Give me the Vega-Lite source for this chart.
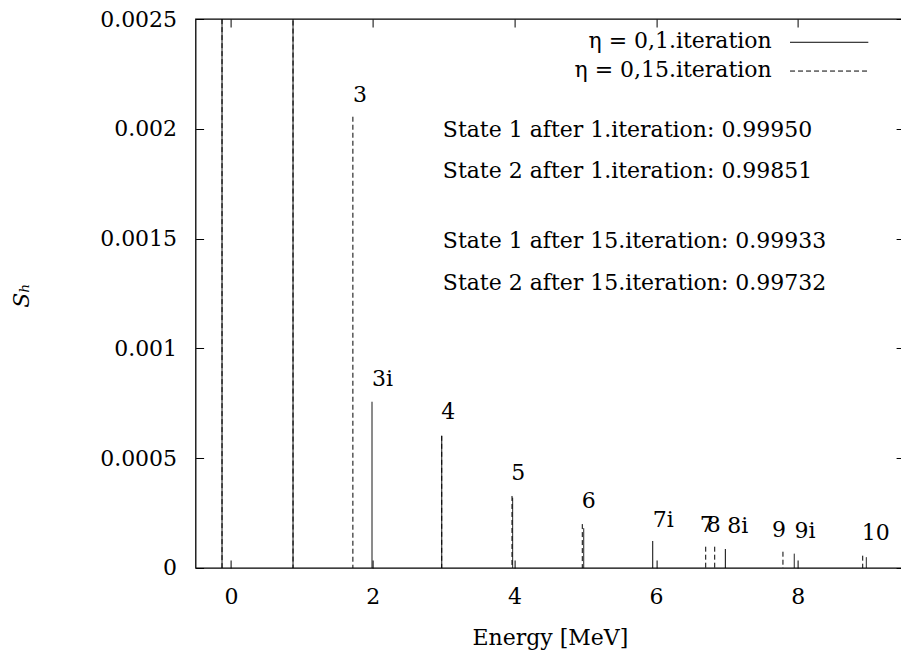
{
  "$schema": "https://vega.github.io/schema/vega-lite/v6.json",
  "width": 708.5,
  "height": 549,
  "autosize": {"type": "none"},
  "padding": {"left": 195.6, "top": 19, "right": 0, "bottom": 93},
  "background": "white",
  "config": {
    "font": "DejaVu Serif",
    "view": {"stroke": "black", "strokeWidth": 1.3},
    "axis": {
      "domain": false,
      "grid": false,
      "tickColor": "black",
      "tickWidth": 1,
      "tickSize": -8,
      "labelColor": "black",
      "labelFontSize": 22,
      "labelFont": "DejaVu Serif",
      "titleColor": "black",
      "titleFontSize": 22,
      "titleFontWeight": "normal",
      "titleFont": "DejaVu Serif"
    }
  },
  "datasets": {
    "spikes": [
      {"E": -0.127, "S": 0.9995, "it": "it1"},
      {"E": 0.875, "S": 0.99851, "it": "it1"},
      {"E": 1.99, "S": 0.000757, "it": "it1"},
      {"E": 2.974, "S": 0.000602, "it": "it1"},
      {"E": 3.975, "S": 0.00032, "it": "it1"},
      {"E": 4.978, "S": 0.000181, "it": "it1"},
      {"E": 5.952, "S": 0.000123, "it": "it1"},
      {"E": 6.977, "S": 0.0000865, "it": "it1"},
      {"E": 7.95, "S": 0.0000651, "it": "it1"},
      {"E": 8.967, "S": 0.0000487, "it": "it1"},
      {"E": -0.127, "S": 0.99933, "it": "it15"},
      {"E": 0.875, "S": 0.99732, "it": "it15"},
      {"E": 1.72, "S": 0.002055, "it": "it15"},
      {"E": 2.974, "S": 0.000602, "it": "it15"},
      {"E": 3.966, "S": 0.000328, "it": "it15"},
      {"E": 4.958, "S": 0.0002, "it": "it15"},
      {"E": 6.7, "S": 0.000097, "it": "it15"},
      {"E": 6.827, "S": 0.000097, "it": "it15"},
      {"E": 7.79, "S": 0.0000742, "it": "it15"},
      {"E": 8.916, "S": 0.000056, "it": "it15"}
    ],
    "peakLabels": [
      {"label": "3", "E": 1.821, "S": 0.002123},
      {"label": "3i", "E": 2.138, "S": 0.000829},
      {"label": "4", "E": 3.067, "S": 0.000677},
      {"label": "5", "E": 4.055, "S": 0.000401},
      {"label": "6", "E": 5.049, "S": 0.000272},
      {"label": "7i", "E": 6.102, "S": 0.000188},
      {"label": "7", "E": 6.714, "S": 0.000165},
      {"label": "8", "E": 6.813, "S": 0.000165},
      {"label": "8i", "E": 7.152, "S": 0.000158},
      {"label": "9", "E": 7.735, "S": 0.000143},
      {"label": "9i", "E": 8.102, "S": 0.000135},
      {"label": "10", "E": 9.099, "S": 0.000128}
    ],
    "notes": [
      {"text": "State 1 after 1.iteration: 0.99950", "E": 2.99, "S": 0.001964},
      {"text": "State 2 after 1.iteration: 0.99851", "E": 2.99, "S": 0.001775},
      {"text": "State 1 after 15.iteration: 0.99933", "E": 2.99, "S": 0.001459},
      {"text": "State 2 after 15.iteration: 0.99732", "E": 2.99, "S": 0.001267}
    ],
    "legendText": [
      {"text": "η = 0,1.iteration", "E": 7.632, "S": 0.002368},
      {"text": "η = 0,15.iteration", "E": 7.632, "S": 0.002234}
    ],
    "legendLines": [
      {"E": 7.89, "E2": 8.995, "S": 0.002394, "it": "it1"},
      {"E": 7.89, "E2": 8.995, "S": 0.002263, "it": "it15"}
    ]
  },
  "layer": [
    {
      "data": {"name": "spikes"},
      "mark": {"type": "rule", "clip": true, "color": "black", "strokeWidth": 1},
      "encoding": {
        "x": {
          "field": "E", "type": "quantitative",
          "scale": {"domain": [-0.5, 9.5], "nice": false, "zero": false},
          "axis": {"orient": "bottom", "values": [0, 2, 4, 6, 8], "title": "Energy [MeV]", "labelPadding": 27, "titleY": 77, "titleBaseline": "alphabetic"}
        },
        "y": {
          "field": "S", "type": "quantitative",
          "scale": {"domain": [0, 0.0025], "nice": false},
          "axis": {"orient": "left", "values": [0, 0.0005, 0.001, 0.0015, 0.002, 0.0025], "format": "~g", "labelPadding": 27, "title": "Sₕ", "titleFontStyle": "italic", "titleAngle": 270, "titleX": -174, "titleY": 276, "titleAlign": "center", "titleBaseline": "middle"}
        },
        "y2": {"datum": 0},
        "strokeDash": {"field": "it", "type": "nominal", "scale": {"domain": ["it1", "it15"], "range": [[1, 0], [5, 3]]}, "legend": null}
      }
    },
    {
      "data": {"name": "peakLabels"},
      "mark": {"type": "text", "fontSize": 22, "align": "center", "baseline": "alphabetic", "color": "black"},
      "encoding": {
        "x": {"field": "E", "type": "quantitative", "axis": null},
        "y": {"field": "S", "type": "quantitative", "axis": null},
        "text": {"field": "label"}
      }
    },
    {
      "data": {"name": "notes"},
      "mark": {"type": "text", "fontSize": 22, "align": "left", "baseline": "alphabetic", "color": "black"},
      "encoding": {
        "x": {"field": "E", "type": "quantitative", "axis": null},
        "y": {"field": "S", "type": "quantitative", "axis": null},
        "text": {"field": "text"}
      }
    },
    {
      "data": {"name": "legendText"},
      "mark": {"type": "text", "fontSize": 22, "align": "right", "baseline": "alphabetic", "color": "black"},
      "encoding": {
        "x": {"field": "E", "type": "quantitative", "axis": null},
        "y": {"field": "S", "type": "quantitative", "axis": null},
        "text": {"field": "text"}
      }
    },
    {
      "data": {"name": "legendLines"},
      "mark": {"type": "rule", "color": "black", "strokeWidth": 1},
      "encoding": {
        "x": {"field": "E", "type": "quantitative", "axis": {"orient": "top", "values": [0, 2, 4, 6, 8], "labels": false, "title": null}},
        "x2": {"field": "E2"},
        "y": {"field": "S", "type": "quantitative", "axis": {"orient": "right", "values": [0, 0.0005, 0.001, 0.0015, 0.002, 0.0025], "labels": false, "title": null}},
        "strokeDash": {"field": "it", "type": "nominal", "scale": {"domain": ["it1", "it15"], "range": [[1, 0], [5, 3]]}, "legend": null}
      }
    }
  ],
  "resolve": {"axis": {"x": "independent", "y": "independent"}}
}
